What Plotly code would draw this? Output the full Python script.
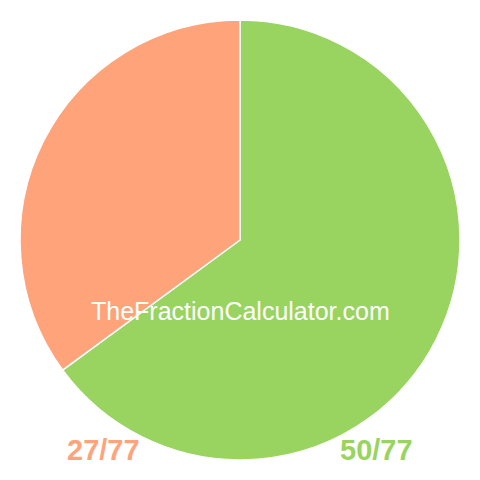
import plotly.graph_objects as go

# slice data
fractions = ["50/77", "27/77"]
values = [50, 27]
colors = ["#99d460", "#ffa47a"]

W = 472  # page body has an 8px margin, so the figure is 472 to fill the window

fig = go.Figure()

fig.add_trace(go.Pie(
    labels=fractions,
    values=values,
    sort=False,
    direction="clockwise",
    rotation=0,
    marker=dict(colors=colors, line=dict(color="white", width=1.5)),
    textinfo="none",
    hoverinfo="label",
    showlegend=False,
    domain=dict(x=[12/W, 452/W], y=[20/W, 460/W]),
))

# watermark
fig.add_annotation(
    text="TheFractionCalculator.com", x=232/W, y=1 - 303/W,
    xref="paper", yref="paper", showarrow=False,
    xanchor="center", yanchor="middle",
    font=dict(family="Liberation Sans, Arial", size=25, color="white"),
)

# fraction labels under the pie
fig.add_annotation(
    text="<b>" + fractions[1] + "</b>", x=95/W, y=1 - 442/W,
    xref="paper", yref="paper", showarrow=False,
    xanchor="center", yanchor="middle",
    font=dict(family="Liberation Sans, Arial", size=29, color=colors[1]),
)
fig.add_annotation(
    text="<b>" + fractions[0] + "</b>", x=368/W, y=1 - 442/W,
    xref="paper", yref="paper", showarrow=False,
    xanchor="center", yanchor="middle",
    font=dict(family="Liberation Sans, Arial", size=29, color=colors[0]),
)

fig.update_layout(
    width=W, height=W,
    margin=dict(l=0, r=0, t=0, b=0),
    paper_bgcolor="white",
    plot_bgcolor="white",
)

fig.write_html("out.html")
